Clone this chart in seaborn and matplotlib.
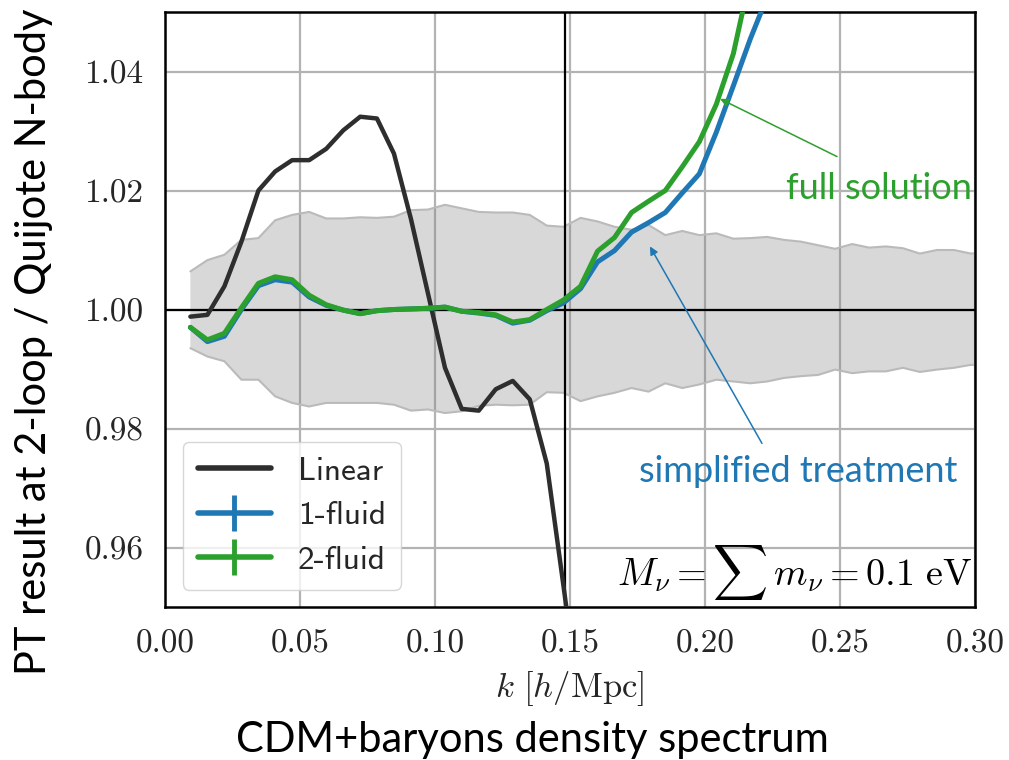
import os
import numpy as np
import pandas as pd
import matplotlib
matplotlib.use("Agg")
import matplotlib.pyplot as plt
from matplotlib.lines import Line2D
from matplotlib.font_manager import FontProperties
import seaborn as sns

# ---- data ----
k_vals = [0.0094, 0.0157, 0.0220, 0.0283, 0.0346, 0.0408, 0.0471, 0.0534, 0.0597, 0.0660,
          0.0723, 0.0785, 0.0848, 0.0911, 0.0974, 0.1037, 0.1099, 0.1162, 0.1225, 0.1288,
          0.1351, 0.1414, 0.1476, 0.1539, 0.1602, 0.1665, 0.1728, 0.1791, 0.1853, 0.1916,
          0.1979, 0.2042, 0.2105, 0.2168, 0.2230, 0.2293, 0.2356, 0.2419, 0.2482, 0.2545,
          0.2608, 0.2670, 0.2733, 0.2796, 0.2859, 0.2922, 0.2985, 0.3048]

band_upper = [1.0064, 1.0083, 1.0092, 1.0117, 1.0120, 1.0150, 1.0159, 1.0164, 1.0153, 1.0153,
              1.0155, 1.0154, 1.0156, 1.0167, 1.0168, 1.0176, 1.0170, 1.0164, 1.0163, 1.0163,
              1.0159, 1.0141, 1.0139, 1.0154, 1.0148, 1.0139, 1.0134, 1.0142, 1.0125, 1.0132,
              1.0125, 1.0128, 1.0119, 1.0120, 1.0122, 1.0117, 1.0114, 1.0108, 1.0102, 1.0110,
              1.0104, 1.0106, 1.0103, 1.0094, 1.0100, 1.0100, 1.0094, 1.0096]
band_lower = [0.9935, 0.9921, 0.9913, 0.9882, 0.9882, 0.9854, 0.9843, 0.9837, 0.9843, 0.9843,
              0.9843, 0.9843, 0.9840, 0.9830, 0.9832, 0.9826, 0.9829, 0.9838, 0.9840, 0.9839,
              0.9840, 0.9861, 0.9860, 0.9846, 0.9854, 0.9860, 0.9868, 0.9862, 0.9876, 0.9868,
              0.9874, 0.9882, 0.9879, 0.9876, 0.9879, 0.9885, 0.9888, 0.9890, 0.9899, 0.9893,
              0.9896, 0.9896, 0.9902, 0.9895, 0.9899, 0.9902, 0.9907, 0.9905]

linear = [0.9988, 0.9991, 1.0039, 1.0114, 1.0200, 1.0232, 1.0251, 1.0251, 1.0270, 1.0301,
          1.0324, 1.0321, 1.0262, 1.0152, 1.0027, 0.9902, 0.9833, 0.9830, 0.9866, 0.9880,
          0.9849, 0.9741, 0.9535, 0.9320]

one_fluid = [0.9970, 0.9946, 0.9955, 1.0000, 1.0040, 1.0050, 1.0046, 1.0021, 1.0007, 0.9999,
             0.9993, 0.9998, 1.0000, 1.0001, 1.0002, 1.0004, 0.9997, 0.9994, 0.9990, 0.9977,
             0.9982, 0.9998, 1.0011, 1.0035, 1.0080, 1.0099, 1.0130, 1.0146, 1.0163, 1.0196,
             1.0228, 1.0298, 1.0376, 1.0455, 1.0525]

two_fluid = [0.9970, 0.9949, 0.9960, 1.0003, 1.0044, 1.0055, 1.0050, 1.0024, 1.0008, 0.9999,
             0.9993, 0.9998, 1.0000, 1.0001, 1.0002, 1.0004, 0.9997, 0.9995, 0.9991, 0.9979,
             0.9983, 1.0000, 1.0016, 1.0039, 1.0098, 1.0121, 1.0163, 1.0182, 1.0200, 1.0240,
             1.0282, 1.0345, 1.0430, 1.0560, 1.0700]

series_labels = ["Linear", "1-fluid", "2-fluid"]
x_ticks = [0.00, 0.05, 0.10, 0.15, 0.20, 0.25, 0.30]
y_ticks = [0.96, 0.98, 1.00, 1.02, 1.04]
k_split = 0.148

# ---- style ----
sns.set_style("white")
plt.rcParams["mathtext.fontset"] = "cm"
plt.rcParams["font.family"] = ["Lato", "DejaVu Sans"]
plt.rcParams["axes.formatter.use_mathtext"] = True

ttf_dir = os.path.join(matplotlib.get_data_path(), "fonts", "ttf")
cmr_fp = FontProperties(fname=os.path.join(ttf_dir, "cmr10.ttf"), size=24)
cmss_fp = FontProperties(fname=os.path.join(ttf_dir, "cmss10.ttf"), size=24)

c_lin, c_one, c_two = "#2e2e2e", "#1f77b4", "#2ca02c"

fig = plt.figure(figsize=(10.09, 7.6), dpi=100)
ax = fig.add_axes([165 / 1009, 1 - 607 / 760, 810 / 1009, 595 / 760])

ax.grid(True, color="#b3b3b3", lw=1.6)
ax.set_axisbelow(True)

ax.fill_between(k_vals, band_lower, band_upper, facecolor="#7f7f7f", alpha=0.3,
                edgecolor="none", zorder=1)
ax.plot(k_vals, band_upper, color="#bababa", lw=1.5, zorder=1.1)
ax.plot(k_vals, band_lower, color="#bababa", lw=1.5, zorder=1.1)

ax.axhline(1.0, color="black", lw=1.6, zorder=1.5)
ax.axvline(k_split, color="black", lw=1.6, zorder=1.5)

n_lin = len(linear)
n_fl = len(one_fluid)
df_lin = pd.DataFrame({"k": k_vals[:n_lin], "r": linear})
df_one = pd.DataFrame({"k": k_vals[:n_fl], "r": one_fluid})
df_two = pd.DataFrame({"k": k_vals[:n_fl], "r": two_fluid})

sns.lineplot(data=df_lin, x="k", y="r", color=c_lin, lw=3.2, ax=ax, legend=False, zorder=3)
sns.lineplot(data=df_one, x="k", y="r", color=c_one, lw=3.6, ax=ax, legend=False, zorder=3)
sns.lineplot(data=df_two, x="k", y="r", color=c_two, lw=3.6, ax=ax, legend=False, zorder=3.1)

ax.set_xlim(0.0, 0.30)
ax.set_ylim(0.95, 1.05)
ax.set_xticks(x_ticks)
ax.set_yticks(y_ticks)
ax.set_xticklabels([f"{v:.2f}" for v in x_ticks], fontproperties=cmr_fp)
ax.set_yticklabels([f"{v:.2f}" for v in y_ticks], fontproperties=cmr_fp)
ax.tick_params(direction="out", length=6.5, width=1.6)
ax.tick_params(axis="x", pad=10)
ax.tick_params(axis="y", pad=9)
for s in ax.spines.values():
    s.set_linewidth(1.8)
    s.set_color("black")

ax.set_xlabel(r"$k\ [h/\mathrm{Mpc}]$", fontsize=25, labelpad=7)
ax.set_ylabel("")

fig.text(34 / 1009, 1 - 342 / 760, "PT result at 2-loop / Quijote N-body",
         rotation=90, ha="center", va="center", fontsize=30, color="black")
fig.text(532 / 1009, 1 - 740 / 760, "CDM+baryons density spectrum",
         ha="center", va="center", fontsize=30, color="black")

# legend
handles = [Line2D([], [], color=c_lin, lw=4),
           Line2D([], [], color=c_one, lw=4, marker="|", markersize=26, mew=3.5),
           Line2D([], [], color=c_two, lw=4, marker="|", markersize=26, mew=3.5)]
leg = ax.legend(handles, series_labels, loc="lower left", bbox_to_anchor=(0.022, 0.029),
                borderaxespad=0, prop=cmss_fp, handlelength=2.2,
                frameon=True, fancybox=True, framealpha=0.8, edgecolor="0.8",
                labelspacing=0.45, handletextpad=0.8, borderpad=0.45)

# annotations
ax.annotate("", xy=(0.2056, 1.0354), xytext=(0.2489, 1.0257),
            arrowprops=dict(arrowstyle="-|>", color=c_two, lw=1.1, mutation_scale=12,
                            shrinkA=0, shrinkB=0), zorder=4)
ax.text(0.2989, 1.0204, "full solution", color=c_two, fontsize=26, ha="right", va="center")
ax.annotate("", xy=(0.1796, 1.0106), xytext=(0.2211, 0.9775),
            arrowprops=dict(arrowstyle="-|>", color=c_one, lw=1.1, mutation_scale=12,
                            shrinkA=0, shrinkB=0), zorder=4)
ax.text(0.2933, 0.9728, "simplified treatment", color=c_one, fontsize=26, ha="right", va="center")

ax.text(0.9965, 0.037, r"$M_\nu = \sum\, m_\nu = 0.1\ \mathrm{eV}$", transform=ax.transAxes,
        ha="right", va="baseline", fontsize=27.5, color="black")

fig.savefig("out.png", dpi=100)
